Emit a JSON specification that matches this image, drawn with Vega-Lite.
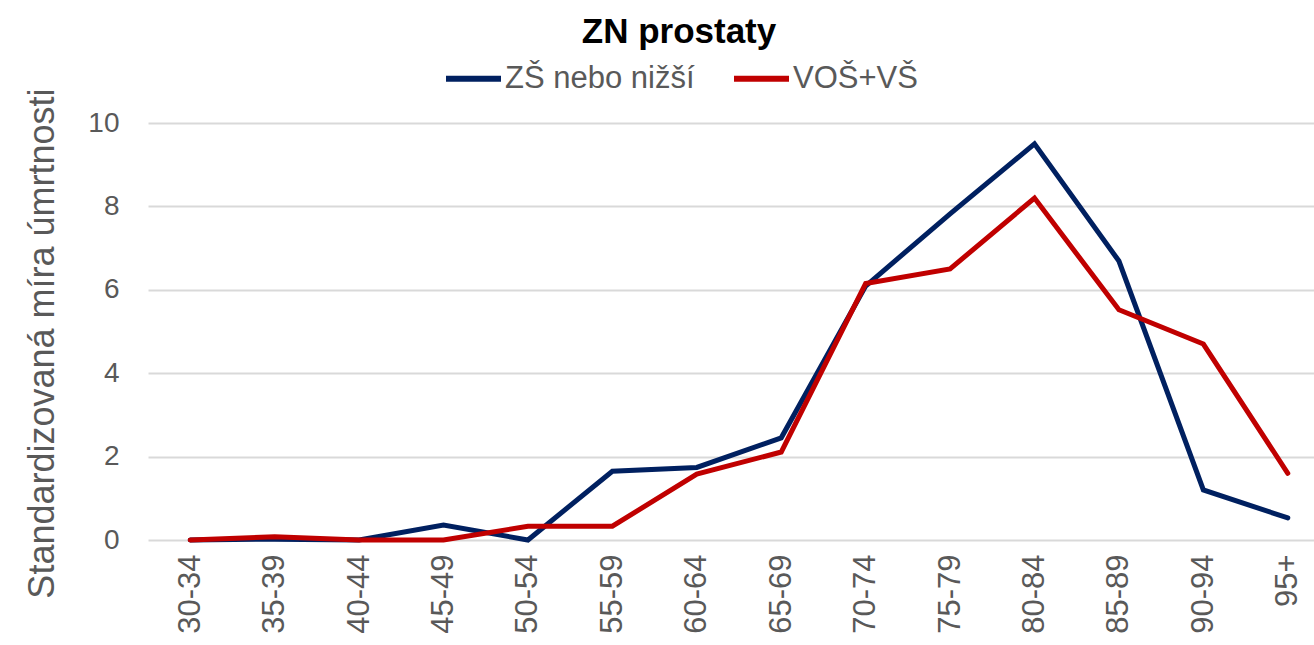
{
  "$schema": "https://vega.github.io/schema/vega-lite/v6.json",
  "autosize": {"type": "none"},
  "padding": {"left": 148, "top": 123, "right": 0, "bottom": 105},
  "width": 1166,
  "height": 417,
  "background": "white",
  "config": {
    "font": "Liberation Sans",
    "view": {"stroke": null}
  },
  "title": {
    "text": "ZN prostaty",
    "fontSize": 35,
    "fontWeight": "bold",
    "color": "#000000",
    "font": "Liberation Sans",
    "anchor": "middle",
    "dx": -52,
    "offset": -2
  },
  "data": {
    "values": [
      {"vek": "30-34", "skupina": "ZŠ nebo nižší", "hodnota": 0},
      {"vek": "35-39", "skupina": "ZŠ nebo nižší", "hodnota": 0.02},
      {"vek": "40-44", "skupina": "ZŠ nebo nižší", "hodnota": 0},
      {"vek": "45-49", "skupina": "ZŠ nebo nižší", "hodnota": 0.36},
      {"vek": "50-54", "skupina": "ZŠ nebo nižší", "hodnota": 0},
      {"vek": "55-59", "skupina": "ZŠ nebo nižší", "hodnota": 1.65},
      {"vek": "60-64", "skupina": "ZŠ nebo nižší", "hodnota": 1.74},
      {"vek": "65-69", "skupina": "ZŠ nebo nižší", "hodnota": 2.45},
      {"vek": "70-74", "skupina": "ZŠ nebo nižší", "hodnota": 6.09},
      {"vek": "75-79", "skupina": "ZŠ nebo nižší", "hodnota": 7.82},
      {"vek": "80-84", "skupina": "ZŠ nebo nižší", "hodnota": 9.5},
      {"vek": "85-89", "skupina": "ZŠ nebo nižší", "hodnota": 6.69},
      {"vek": "90-94", "skupina": "ZŠ nebo nižší", "hodnota": 1.2},
      {"vek": "95+", "skupina": "ZŠ nebo nižší", "hodnota": 0.53},
      {"vek": "30-34", "skupina": "VOŠ+VŠ", "hodnota": 0},
      {"vek": "35-39", "skupina": "VOŠ+VŠ", "hodnota": 0.08},
      {"vek": "40-44", "skupina": "VOŠ+VŠ", "hodnota": 0},
      {"vek": "45-49", "skupina": "VOŠ+VŠ", "hodnota": 0},
      {"vek": "50-54", "skupina": "VOŠ+VŠ", "hodnota": 0.33},
      {"vek": "55-59", "skupina": "VOŠ+VŠ", "hodnota": 0.33},
      {"vek": "60-64", "skupina": "VOŠ+VŠ", "hodnota": 1.58},
      {"vek": "65-69", "skupina": "VOŠ+VŠ", "hodnota": 2.11},
      {"vek": "70-74", "skupina": "VOŠ+VŠ", "hodnota": 6.15},
      {"vek": "75-79", "skupina": "VOŠ+VŠ", "hodnota": 6.5},
      {"vek": "80-84", "skupina": "VOŠ+VŠ", "hodnota": 8.2},
      {"vek": "85-89", "skupina": "VOŠ+VŠ", "hodnota": 5.52},
      {"vek": "90-94", "skupina": "VOŠ+VŠ", "hodnota": 4.7},
      {"vek": "95+", "skupina": "VOŠ+VŠ", "hodnota": 1.6}
    ]
  },
  "mark": {"type": "line", "strokeWidth": 5, "strokeJoin": "miter", "strokeCap": "round"},
  "encoding": {
    "x": {
      "field": "vek",
      "type": "ordinal",
      "sort": null,
      "scale": {"type": "point", "range": [0, 1182], "padding": 0.5},
      "axis": {
        "title": null,
        "labelAngle": -90,
        "labelFontSize": 31,
        "labelColor": "#595959",
        "labelFont": "Liberation Sans",
        "labelPadding": 14,
        "labelAlign": "right",
        "labelBaseline": "middle",
        "ticks": false,
        "domain": false,
        "grid": false
      }
    },
    "y": {
      "field": "hodnota",
      "type": "quantitative",
      "scale": {"domain": [0, 10], "nice": false},
      "axis": {
        "values": [0, 2, 4, 6, 8, 10],
        "title": "Standardizovaná míra úmrtnosti",
        "titleFontSize": 36,
        "titleFontWeight": "normal",
        "titleColor": "#595959",
        "titleFont": "Liberation Sans",
        "titleX": -106,
        "titleY": 220,
        "titleAlign": "center",
        "titleBaseline": "middle",
        "titleAngle": -90,
        "labelFontSize": 28,
        "labelColor": "#595959",
        "labelFont": "Liberation Sans",
        "labelPadding": 29,
        "ticks": false,
        "domain": false,
        "grid": true,
        "gridColor": "#d9d9d9",
        "gridWidth": 2
      }
    },
    "color": {
      "field": "skupina",
      "type": "nominal",
      "sort": ["ZŠ nebo nižší", "VOŠ+VŠ"],
      "scale": {"domain": ["ZŠ nebo nižší", "VOŠ+VŠ"], "range": ["#002060", "#C00000"]},
      "legend": {
        "title": null,
        "orient": "none",
        "direction": "horizontal",
        "legendX": 295,
        "legendY": -75,
        "padding": 0,
        "symbolType": "stroke",
        "symbolSize": 3025,
        "symbolStrokeWidth": 6,
        "labelFontSize": 31,
        "labelColor": "#595959",
        "labelFont": "Liberation Sans",
        "labelOffset": 1,
        "columnPadding": 27,
        "labelLimit": 400
      }
    }
  }
}
